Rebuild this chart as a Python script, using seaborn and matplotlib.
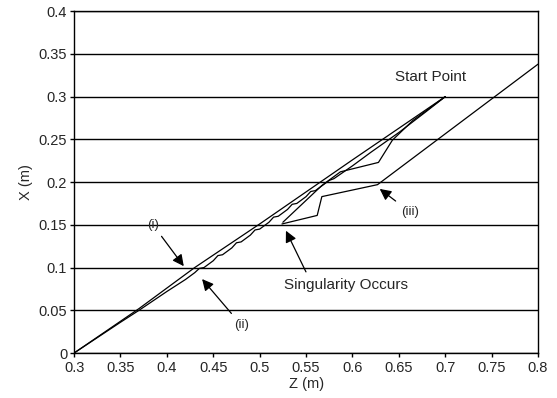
import numpy as np
import pandas as pd
import matplotlib
matplotlib.use("Agg")
import matplotlib.pyplot as plt
import seaborn as sns

sns.set_theme(style="white")
plt.rcParams['font.family'] = ['Liberation Sans', 'DejaVu Sans']

# path (i): near-straight line from start point to origin
z_i = [0.70, 0.60, 0.50, 0.43, 0.37, 0.30]
x_i = [0.300, 0.226, 0.151, 0.100, 0.052, 0.000]

# path (ii): just below (i), jagged
z_ii = [0.70, 0.68, 0.65, 0.62, 0.60, 0.58, 0.575, 0.57, 0.56, 0.555, 0.55, 0.54,
        0.535, 0.53, 0.52, 0.515, 0.51, 0.50, 0.495, 0.49, 0.48, 0.475, 0.47,
        0.46, 0.455, 0.45, 0.44, 0.435, 0.43, 0.42, 0.40, 0.385, 0.37, 0.35, 0.30]
x_ii = [0.300, 0.283, 0.258, 0.235, 0.219, 0.204, 0.202, 0.198, 0.190, 0.189,
        0.183, 0.175, 0.174, 0.168, 0.160, 0.159, 0.153, 0.145, 0.144, 0.138,
        0.130, 0.129, 0.123, 0.115, 0.114, 0.108, 0.100, 0.099, 0.094, 0.086,
        0.072, 0.061, 0.050, 0.036, 0.000]

# middle path ending at the singularity
z_mid = [0.70, 0.665, 0.643, 0.628, 0.587, 0.567, 0.525]
x_mid = [0.300, 0.272, 0.249, 0.223, 0.212, 0.196, 0.153]

# path (iii)
z_iii = [0.80, 0.627, 0.567, 0.562, 0.524]
x_iii = [0.338, 0.197, 0.183, 0.161, 0.151]

paths = pd.concat([
    pd.DataFrame({'Z': z_i, 'X': x_i, 'path': 'i'}),
    pd.DataFrame({'Z': z_ii, 'X': x_ii, 'path': 'ii'}),
    pd.DataFrame({'Z': z_mid, 'X': x_mid, 'path': 'mid'}),
    pd.DataFrame({'Z': z_iii, 'X': x_iii, 'path': 'iii'}),
])

fig, ax = plt.subplots(figsize=(5.57, 3.98), dpi=100)
fig.subplots_adjust(left=0.133, right=0.966, bottom=0.113, top=0.972)

ax.set_axisbelow(True)
ax.yaxis.grid(True, color='black', linewidth=1.0)
ax.xaxis.grid(False)

for name, g in paths.groupby('path', sort=False):
    sns.lineplot(data=g, x='Z', y='X', sort=False, estimator=None,
                 color='black', linewidth=0.9, ax=ax)

ax.set_xlim(0.3, 0.8)
ax.set_ylim(0, 0.4)
xt = np.arange(0.3, 0.801, 0.05)
yt = np.arange(0, 0.401, 0.05)
ax.set_xticks(xt)
ax.set_yticks(yt)
ax.set_xticklabels(['%g' % round(v, 2) for v in xt])
ax.set_yticklabels(['%g' % round(v, 2) for v in yt])
ax.tick_params(axis='both', direction='out', length=3, width=1, color='black',
               labelsize=10.5, bottom=True, left=True)
ax.tick_params(axis='x', pad=3)
ax.tick_params(axis='y', pad=2)
for s in ax.spines.values():
    s.set_visible(True)
    s.set_color('black')
    s.set_linewidth(1.0)

ax.set_xlabel('Z (m)', fontsize=10.5, labelpad=1)
ax.set_ylabel('X (m)', fontsize=10.5, labelpad=4)

arrow = dict(arrowstyle='-|>', color='black', lw=0.9, mutation_scale=17)
ax.annotate('(i)', xy=(0.42, 0.099), xytext=(0.385, 0.150), fontsize=9.5,
            ha='center', va='center', arrowprops=arrow)
ax.annotate('(ii)', xy=(0.436, 0.089), xytext=(0.48, 0.033), fontsize=9.5,
            ha='center', va='center', arrowprops=arrow)
ax.annotate('Singularity Occurs', xy=(0.527, 0.146), xytext=(0.593, 0.080),
            fontsize=11, ha='center', va='center',
            arrowprops=dict(arrow, relpos=(0.2, 1.0)))
ax.annotate('(iii)', xy=(0.627, 0.194), xytext=(0.662, 0.165), fontsize=9.5,
            ha='center', va='center', arrowprops=arrow)
ax.text(0.684, 0.323, 'Start Point', fontsize=11, ha='center', va='center')

fig.savefig('out.png', dpi=100)
